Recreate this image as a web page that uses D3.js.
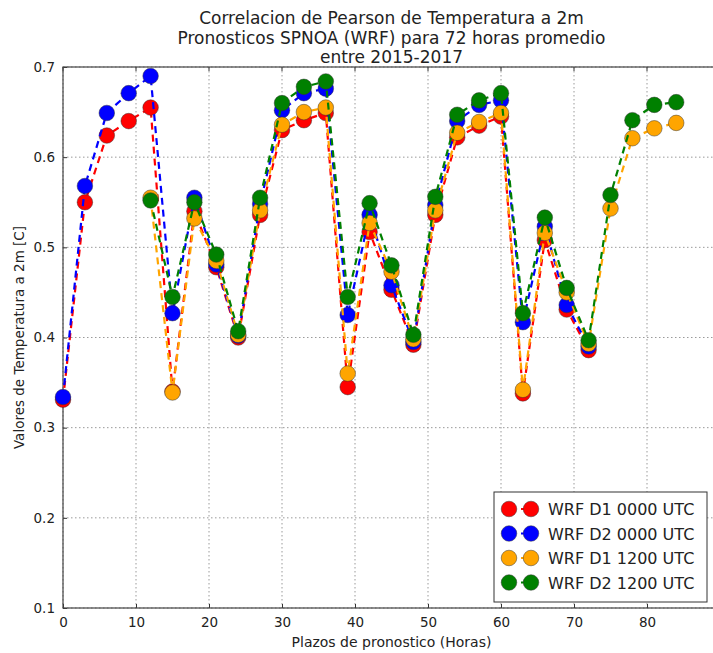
<!DOCTYPE html>
<html>
<head>
<meta charset="utf-8">
<script src="https://cdn.jsdelivr.net/npm/d3@7"></script>
<style>
  html, body { margin: 0; padding: 0; background: #fff; overflow: hidden; }
  svg { display: block; font-family: "DejaVu Sans", sans-serif; }
</style>
</head>
<body>
<svg id="chart" width="713" height="653"></svg>
<script>
// ---- data ----
const titleLines = ["Correlacion de Pearson de Temperatura a 2m",
                    "Pronosticos SPNOA (WRF) para 72 horas promedio",
                    "entre 2015-2017"];
const xLabel = "Plazos de pronostico (Horas)";
const yLabel = "Valores de Temperatura a 2m [C]";
const xTicks = [0, 10, 20, 30, 40, 50, 60, 70, 80];
const yTicks = [0.1, 0.2, 0.3, 0.4, 0.5, 0.6, 0.7];

const hours00 = [0,3,6,9,12,15,18,21,24,27,30,33,36,39,42,45,48,51,54,57,60,63,66,69,72];
const hours12 = [12,15,18,21,24,27,30,33,36,39,42,45,48,51,54,57,60,63,66,69,72,75,78,81,84];

const d1_0000 = [0.331,0.550,0.624,0.640,0.655,0.340,0.540,0.478,0.400,0.536,0.630,0.641,0.649,0.345,0.517,0.453,0.392,0.536,0.622,0.635,0.645,0.338,0.508,0.431,0.386];
const d2_0000 = [0.334,0.568,0.649,0.671,0.690,0.427,0.555,0.481,0.402,0.548,0.652,0.671,0.676,0.425,0.536,0.458,0.395,0.547,0.640,0.658,0.663,0.417,0.523,0.436,0.390];
const d1_1200 = [0.555,0.339,0.532,0.485,0.403,0.541,0.636,0.650,0.655,0.360,0.527,0.473,0.398,0.541,0.627,0.639,0.649,0.342,0.516,0.450,0.393,0.543,0.621,0.632,0.638];
const d2_1200 = [0.552,0.445,0.550,0.492,0.407,0.555,0.660,0.678,0.684,0.445,0.549,0.480,0.403,0.556,0.647,0.663,0.671,0.427,0.533,0.455,0.397,0.558,0.641,0.658,0.661];

const seriesNames = ["WRF D1 0000 UTC", "WRF D2 0000 UTC", "WRF D1 1200 UTC", "WRF D2 1200 UTC"];
const seriesColors = ["#ff0000", "#0000ff", "#ffa500", "#008000"];

const series = [
  { name: seriesNames[0], color: seriesColors[0], x: hours00, y: d1_0000 },
  { name: seriesNames[1], color: seriesColors[1], x: hours00, y: d2_0000 },
  { name: seriesNames[2], color: seriesColors[2], x: hours12, y: d1_1200 },
  { name: seriesNames[3], color: seriesColors[3], x: hours12, y: d2_1200 }
];

// ---- layout ----
const svg = d3.select("#chart");
const mLeft = 63, mRight = 720, mTop = 67, mBottom = 608;
const x = d3.scaleLinear().domain([0, 90]).range([mLeft, mRight]);
const y = d3.scaleLinear().domain([0.1, 0.7]).range([mBottom, mTop]);
const textColor = "#222";

// grid
const grid = svg.append("g");
grid.selectAll("line.gx").data(xTicks).join("line")
  .attr("x1", d => x(d)).attr("x2", d => x(d))
  .attr("y1", mTop).attr("y2", mBottom)
  .attr("stroke", "#9a9a9a").attr("stroke-width", 1).attr("stroke-dasharray", "1.5,2.5");
grid.selectAll("line.gy").data(yTicks).join("line")
  .attr("x1", mLeft).attr("x2", mRight)
  .attr("y1", d => y(d)).attr("y2", d => y(d))
  .attr("stroke", "#9a9a9a").attr("stroke-width", 1).attr("stroke-dasharray", "1.5,2.5");

// axes
const xAxis = d3.axisBottom(x).tickValues(xTicks).tickFormat(d3.format("d")).tickSizeInner(-4).tickSizeOuter(0).tickPadding(9);
const yAxis = d3.axisLeft(y).tickValues(yTicks).tickFormat(d3.format(".1f")).tickSizeInner(-4).tickSizeOuter(0).tickPadding(8);
const gx = svg.append("g").attr("transform", `translate(0,${mBottom})`).call(xAxis);
const gy = svg.append("g").attr("transform", `translate(${mLeft},0)`).call(yAxis);
[gx, gy].forEach(g => {
  g.select(".domain").remove();
  g.selectAll(".tick line").attr("stroke", "#333");
  g.selectAll(".tick text").attr("fill", textColor).style("font-size", "13.5px").style("font-family", "DejaVu Sans");
});
// top ticks
svg.append("g").selectAll("line").data(xTicks).join("line")
  .attr("x1", d => x(d)).attr("x2", d => x(d)).attr("y1", mTop).attr("y2", mTop + 4)
  .attr("stroke", "#333");

// frame
svg.append("rect").attr("x", mLeft).attr("y", mTop).attr("width", mRight - mLeft).attr("height", mBottom - mTop)
  .attr("fill", "none").attr("stroke", "#444").attr("stroke-width", 1.2);

// series
const line = d3.line().x(d => x(d[0])).y(d => y(d[1]));
const plot = svg.append("g");
series.forEach(s => {
  const pts = s.x.map((h, i) => [h, s.y[i]]);
  const g = plot.append("g");
  g.append("path").attr("d", line(pts)).attr("fill", "none")
    .attr("stroke", s.color).attr("stroke-width", 2.2).attr("stroke-dasharray", "7,5");
  g.selectAll("circle").data(pts).join("circle")
    .attr("cx", d => x(d[0])).attr("cy", d => y(d[1])).attr("r", 7.8)
    .attr("fill", s.color).attr("stroke", "#333").attr("stroke-opacity", 0.6).attr("stroke-width", 0.8);
});

// titles
const title = svg.append("text").attr("text-anchor", "middle").attr("fill", textColor).style("font-size", "17px");
titleLines.forEach((t, i) => {
  title.append("tspan").attr("x", (mLeft + mRight) / 2).attr("y", 24 + i * 19.5).text(t);
});
svg.append("text").attr("x", (mLeft + mRight) / 2).attr("y", 647).attr("text-anchor", "middle")
  .attr("fill", textColor).style("font-size", "14px").text(xLabel);
svg.append("text").attr("transform", `translate(24,${(mTop + mBottom) / 2}) rotate(-90)`).attr("text-anchor", "middle")
  .attr("fill", textColor).style("font-size", "13.5px").text(yLabel);

// legend
const lg = svg.append("g").attr("transform", "translate(494,492)");
lg.append("rect").attr("width", 213).attr("height", 110).attr("fill", "#fff").attr("stroke", "#333").attr("stroke-width", 1);
series.forEach((s, i) => {
  const ry = 17 + i * 24.5;
  lg.append("line").attr("x1", 15).attr("x2", 37).attr("y1", ry).attr("y2", ry)
    .attr("stroke", s.color).attr("stroke-width", 2.2).attr("stroke-dasharray", "7,5");
  [15, 37].forEach(cx => lg.append("circle").attr("cx", cx).attr("cy", ry).attr("r", 7.8)
    .attr("fill", s.color).attr("stroke", "#333").attr("stroke-opacity", 0.6).attr("stroke-width", 0.8));
  lg.append("text").attr("x", 54).attr("y", ry + 6).attr("fill", textColor).style("font-size", "16px").text(s.name);
});
</script>
</body>
</html>
